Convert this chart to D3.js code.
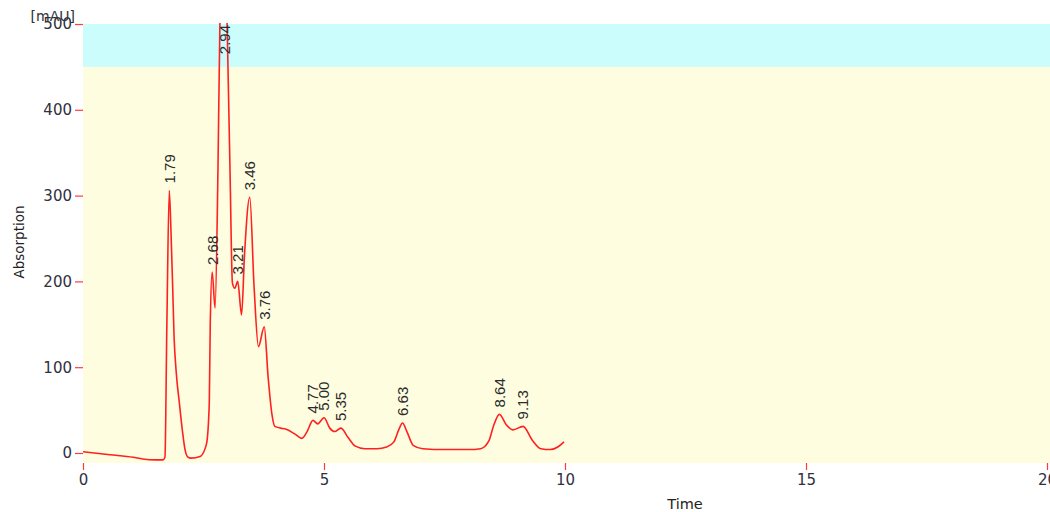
<!DOCTYPE html>
<html>
<head>
<meta charset="utf-8">
<script src="https://cdn.jsdelivr.net/npm/d3@7"></script>
<style>
  html, body { margin: 0; padding: 0; background: #ffffff; }
  svg { display: block; }
</style>
</head>
<body>
<svg id="chart" width="1050" height="512"></svg>
<script>
// Chromatogram trace: retention time (min) and detector signal (mAU)
const times = [0, 0.56, 1.04, 1.24, 1.5, 1.66, 1.70, 1.74, 1.79, 1.83, 1.86, 1.89, 1.93, 2.00, 2.06, 2.12, 2.18, 2.24, 2.43, 2.56, 2.62, 2.64, 2.68, 2.74, 2.80, 2.84, 2.94, 2.99, 3.05, 3.10, 3.15, 3.21, 3.29, 3.35, 3.46, 3.55, 3.64, 3.76, 3.84, 3.92, 3.98, 4.10, 4.20, 4.40, 4.54, 4.65, 4.77, 4.87, 5.00, 5.12, 5.22, 5.35, 5.50, 5.65, 5.85, 6.10, 6.30, 6.45, 6.55, 6.63, 6.72, 6.85, 7.05, 7.50, 8.00, 8.25, 8.42, 8.52, 8.64, 8.78, 8.92, 9.13, 9.32, 9.50, 9.70, 9.85, 9.98];
const absorbance = [1.5, -2, -5, -7, -8, -8, -5, 150, 306, 250, 194, 135, 97, 58, 27, 3, -5, -6, -4, 10, 58, 150, 211, 169, 330, 500, 650, 500, 330, 198, 192, 200, 161, 230, 298, 193, 124, 147, 89, 45, 31, 29, 28, 22, 17, 25, 38, 34, 41, 29, 25, 29, 18, 8, 5, 5, 7, 13, 27, 35, 25, 9, 5, 4, 4, 5, 14, 32, 45, 33, 27, 31, 15, 5, 4, 7, 13];

// Integrated peaks (retention times printed above each peak)
const peakTimes = [1.79, 2.68, 2.94, 3.21, 3.46, 3.76, 4.77, 5.00, 5.35, 6.63, 8.64, 9.13];
const peakLabels = ["1.79", "2.68", "2.94", "3.21", "3.46", "3.76", "4.77", "5.00", "5.35", "6.63", "8.64", "9.13"];

// Axes
const xTicks = [0, 5, 10, 15, 20];
const yTicks = [0, 100, 200, 300, 400, 500];
const xTitle = "Time";
const yTitle = "Absorption";
const yUnit = "[mAU]";
// Upper signal band shaded in cyan
const bandLow = 450;

const svg = d3.select("#chart");

const plotLeft = 83, plotRight = 1050, plotTop = 24, plotBottom = 463;
const x = d3.scaleLinear().domain([0, 20]).range([83, 1047]);
const y = d3.scaleLinear().domain([0, 500]).range([453, 24]);

// Plot background
svg.append("rect")
  .attr("x", plotLeft).attr("y", plotTop)
  .attr("width", plotRight - plotLeft).attr("height", plotBottom - plotTop)
  .attr("fill", "#fefde0");
svg.append("rect")
  .attr("x", plotLeft).attr("y", y(500))
  .attr("width", plotRight - plotLeft).attr("height", y(bandLow) - y(500))
  .attr("fill", "#cbfdfd");

svg.append("clipPath").attr("id", "plotClip")
  .append("rect")
  .attr("x", plotLeft).attr("y", plotTop - 1)
  .attr("width", plotRight - plotLeft).attr("height", plotBottom - plotTop + 1);

const tickColor = "#ff3b3b";
const labelColor = "#30303e";
const font = "DejaVu Sans, Verdana, sans-serif";

// Y axis
const yAxis = svg.append("g")
  .attr("transform", `translate(${plotLeft},0)`)
  .call(d3.axisLeft(y).tickValues(yTicks).tickSize(8).tickPadding(3).tickFormat(d3.format("d")));
yAxis.select(".domain").remove();
yAxis.selectAll(".tick line").attr("stroke", tickColor).attr("stroke-width", 1.2);
yAxis.selectAll(".tick text")
  .attr("fill", labelColor).attr("font-family", font).attr("font-size", 15);

// X axis
const xAxis = svg.append("g")
  .attr("transform", `translate(0,${plotBottom})`)
  .call(d3.axisBottom(x).tickValues(xTicks).tickSize(7).tickPadding(4).tickFormat(d3.format("d")));
xAxis.select(".domain").remove();
xAxis.selectAll(".tick line").attr("stroke", tickColor).attr("stroke-width", 1.2);
xAxis.selectAll(".tick text")
  .attr("fill", labelColor).attr("font-family", font).attr("font-size", 15);

// Axis titles
svg.append("text")
  .attr("x", 685).attr("y", 509)
  .attr("text-anchor", "middle")
  .attr("font-family", font).attr("font-size", 14.5)
  .attr("fill", "#222")
  .text(xTitle);

svg.append("text")
  .attr("transform", "translate(24,242) rotate(-90)")
  .attr("text-anchor", "middle")
  .attr("font-family", font).attr("font-size", 13.5)
  .attr("fill", "#222")
  .text(yTitle);

svg.append("text")
  .attr("x", 75).attr("y", 21)
  .attr("text-anchor", "end")
  .attr("font-family", font).attr("font-size", 14)
  .attr("fill", "#333")
  .text(yUnit);

// Signal trace
const trace = times.map((t, i) => ({ t, v: absorbance[i] }));
const line = d3.line()
  .x(d => x(d.t))
  .y(d => y(d.v))
  .curve(d3.curveMonotoneX);

svg.append("path")
  .datum(trace)
  .attr("clip-path", "url(#plotClip)")
  .attr("fill", "none")
  .attr("stroke", "#ff2020")
  .attr("stroke-width", 1.6)
  .attr("stroke-linejoin", "round")
  .attr("d", line);

// Peak retention-time labels
const peaks = peakTimes.map((t, i) => {
  const idx = times.indexOf(t);
  return { t, v: absorbance[idx], label: peakLabels[i] };
});

svg.append("g").selectAll("text")
  .data(peaks)
  .join("text")
  .attr("transform", d => {
    const over = d.v > 500;
    const py = over ? plotTop + 1 : y(d.v) - 7;
    return `translate(${x(d.t)},${py}) rotate(-90)`;
  })
  .attr("text-anchor", d => d.v > 500 ? "end" : "start")
  .attr("dy", "0.36em")
  .attr("font-family", "Liberation Sans, Arial, sans-serif")
  .attr("font-size", 15)
  .attr("fill", "#2a2a2a")
  .text(d => d.label);
</script>
</body>
</html>
